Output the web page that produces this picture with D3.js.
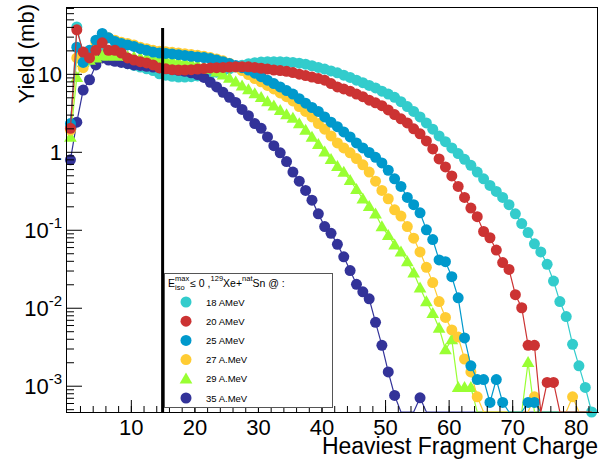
<!DOCTYPE html>
<html>
<head>
<meta charset="utf-8">
<script src="https://cdn.jsdelivr.net/npm/d3@7"></script>
<style>
  body { margin: 0; background: #fff; }
  svg { display: block; font-family: "Liberation Sans", Arial, sans-serif; }
</style>
</head>
<body>
<svg width="608" height="460"></svg>
<script>
// heaviest fragment charge, one bin per Z (drawn at the bin centre)
const CHARGES = d3.range(1, 84);

const LABELS = ["18 AMeV", "20 AMeV", "25 AMeV", "27 A.MeV", "29 A.MeV", "35 A.MeV"];
const COLORS = ["#33cccc", "#cc3333", "#0099cc", "#ffcc33", "#99ff33", "#333399"];
const MARKERS = ["circle", "circle", "circle", "circle", "triangle", "circle"];
const DRAW_ORDER = [0, 5, 4, 3, 2, 1];

const yield18 = [
  2.1, 40, 18, 15, 17, 19, 17, 15.5, 14.5, 13.5,
  12.8, 12.2, 11.6, 11.0, 10.0, 9.6, 9.3, 9.1, 9.1, 9.2,
  9.4, 9.7, 10.1, 10.5, 11.0, 11.6, 12.2, 12.9, 13.5, 13.9,
  14.2, 14.3, 14.3, 14.3, 14.2, 14.0, 13.7, 13.3, 12.7, 12.1,
  11.5, 10.9, 10.3, 9.6, 9.0, 8.3, 7.7, 7.1, 6.6, 6.0,
  5.5, 5.0, 4.4, 3.8, 3.3, 2.8, 2.35, 1.95, 1.6, 1.35,
  1.12, 0.95, 0.80, 0.67, 0.55, 0.45, 0.37, 0.31, 0.26, 0.21,
  0.16, 0.12, 0.092, 0.066, 0.052, 0.036, 0.022, 0.012, 0.0077, 0.0034,
  0.0018, 0.00095, 0.00046
];
const yield20 = [
  2.0, 36.7, 19, 16, 20, 25, 20, 20, 18.5, 16,
  15, 14.3, 13.8, 13, 11.9, 11.6, 11.3, 11.2, 11.2, 11.3,
  11.5, 11.7, 11.9, 12.0, 12.1, 12.2, 12.3, 12.3, 12.3, 12.1,
  11.8, 11.5, 11.2, 11.0, 10.8, 10.4, 9.9, 9.5, 9.1, 8.7,
  8.3, 7.5, 6.8, 6.4, 6.0, 5.5, 5.1, 4.6, 4.25, 3.9,
  3.45, 3.0, 2.65, 2.35, 1.97, 1.7, 1.38, 1.09, 0.81, 0.64,
  0.49, 0.36, 0.26, 0.19, 0.147, 0.095, 0.079, 0.055, 0.038, 0.031,
  0.0147, 0.010, 0.0033, 0.0033, 0, 0.0011, 0.0011, 0, 0, 0,
  0, 0, 0
];
const yield25 = [
  2.3, 22, 14, 20, 27, 33, 29, 26, 24.5, 23.5,
  22.5, 21, 20, 19, 18.5, 18.3, 18, 17.6, 17.2, 16.8,
  16.5, 16.2, 15.7, 15, 14.3, 13.6, 12.8, 12, 11.2, 10.2,
  9.2, 8.3, 7.5, 6.8, 6.1, 5.5, 4.8, 4.2, 3.7, 3.3,
  2.8, 2.4, 2.1, 1.8, 1.55, 1.3, 1.12, 0.98, 0.85, 0.72,
  0.58, 0.45, 0.36, 0.26, 0.21, 0.165, 0.1, 0.075, 0.041, 0.039,
  0.025, 0.0134, 0.0041, 0.0018, 0.0012, 0.0012, 0.00061, 0.0012, 0.00061, 0,
  0, 0, 0.00061, 0.00061, 0, 0, 0, 0, 0, 0,
  0, 0, 0
];
const yield27 = [
  1.9, 16, 12, 17, 25, 30, 29, 27, 25.5, 24.5,
  23.5, 22, 21, 20, 19.5, 19.2, 18.9, 18.5, 18.1, 17.7,
  17.3, 16.8, 16.2, 15.5, 14.7, 13.7, 12.3, 11, 9.8, 8.7,
  7.9, 7.1, 6.4, 5.7, 5.1, 4.5, 3.8, 3.3, 2.8, 2.3,
  1.95, 1.6, 1.3, 1.12, 0.97, 0.82, 0.68, 0.55, 0.42, 0.32,
  0.25, 0.18, 0.15, 0.11, 0.078, 0.052, 0.033, 0.021, 0.012, 0.0075,
  0.0052, 0.0042, 0.0022, 0.0015, 0.00072, 0, 0, 0, 0, 0,
  0, 0, 0, 0.00072, 0, 0, 0, 0, 0, 0.00072,
  0, 0, 0
];
const yield29 = [
  1.55, 9, 14, 15, 16, 17, 17, 17, 17, 16.8,
  16.5, 16.2, 16, 15.7, 15.3, 15, 14.7, 14.3, 14, 13.6,
  13, 12.3, 11.5, 10.6, 9.7, 8.8, 7.9, 7.0, 6.3, 5.6,
  5.0, 4.4, 3.9, 3.4, 3.0, 2.7, 2.3, 1.9, 1.55, 1.25,
  1.0, 0.8, 0.65, 0.55, 0.43, 0.33, 0.25, 0.2, 0.16, 0.11,
  0.085, 0.064, 0.052, 0.039, 0.028, 0.018, 0.012, 0.0085, 0.0055, 0.0029,
  0.0039, 0.00095, 0.00095, 0.00095, 0, 0, 0, 0, 0, 0,
  0, 0, 0.002, 0, 0, 0, 0, 0, 0, 0,
  0, 0, 0
];
const yield35 = [
  0.79, 2.4, 6.2, 8.4, 13, 16, 15, 14.5, 14, 13.5,
  13, 12.8, 12.5, 12.2, 12, 11.7, 11.4, 11.1, 10.8, 10.3,
  9.8, 9.0, 7.8, 6.8, 5.8, 5.0, 4.3, 3.5, 2.9, 2.3,
  2.0, 1.55, 1.2, 0.97, 0.75, 0.55, 0.42, 0.32, 0.24, 0.16,
  0.11, 0.09, 0.065, 0.045, 0.03, 0.02, 0.016, 0.013, 0.0065, 0.0033,
  0.0015, 0.00075, 0, 0, 0, 0.0007, 0, 0, 0, 0,
  0, 0, 0, 0, 0, 0, 0, 0, 0, 0,
  0, 0, 0, 0, 0, 0, 0, 0, 0, 0,
  0, 0, 0
];
const YIELDS = [yield18, yield20, yield25, yield27, yield29, yield35];

const X_MAJOR_TICKS = [10, 20, 30, 40, 50, 60, 70, 80];
const X_MINOR_TICKS = d3.range(2, 84, 2);
const Y_TICK_VALUES = [1e-3, 1e-2, 1e-1, 1, 10];
const Y_TICK_BASE = ["10", "10", "10", "1", "10"];
const Y_TICK_EXP = ["-3", "-2", "-1", "", ""];
const Z_CUT = 15;

const main = function() {
  const svg = d3.select("svg");
  const left = 66, right = 598, top = 7, bottom = 412;

  const x = d3.scaleLinear().domain([-0.2, 83.5]).range([left, right]);
  const y = d3.scaleLog().domain([4.6e-4, 72]).range([bottom, top]);
  const xOf = z => x(z - 0.5);
  const yOf = v => (v > 0 ? y(v) : bottom);

  // series: line first, then markers
  const line = d3.line().x(d => xOf(d.z)).y(d => yOf(d.v));
  DRAW_ORDER.forEach(i => {
    const pts = CHARGES.map((z, k) => ({ z: z, v: YIELDS[i][k] }));
    const g = svg.append("g");
    g.append("path")
      .attr("d", line(pts))
      .attr("fill", "none")
      .attr("stroke", COLORS[i])
      .attr("stroke-width", 1.2);
    const shown = pts.filter(d => d.v > 0);
    if (MARKERS[i] === "triangle") {
      g.selectAll("path.m")
        .data(shown)
        .enter()
        .append("path")
        .attr("class", "m")
        .attr("d", d3.symbol(d3.symbolTriangle).size(70))
        .attr("transform", d => `translate(${xOf(d.z)},${yOf(d.v) + 1})`)
        .attr("fill", COLORS[i]);
    } else {
      g.selectAll("circle")
        .data(shown)
        .enter()
        .append("circle")
        .attr("cx", d => xOf(d.z))
        .attr("cy", d => yOf(d.v))
        .attr("r", 5.5)
        .attr("fill", COLORS[i]);
    }
  });

  // cut line
  svg.append("line")
    .attr("x1", x(Z_CUT)).attr("x2", x(Z_CUT))
    .attr("y1", 28).attr("y2", bottom)
    .attr("stroke", "#000").attr("stroke-width", 3);

  // frame
  svg.append("rect")
    .attr("x", left + 0.5).attr("y", top + 0.5)
    .attr("width", right - left - 1).attr("height", bottom - top)
    .attr("fill", "none").attr("stroke", "#000").attr("stroke-width", 1);

  // x axis
  svg.append("g")
    .attr("transform", `translate(0,${bottom})`)
    .call(d3.axisBottom(x).tickValues(X_MINOR_TICKS).tickSize(-6).tickSizeOuter(0).tickFormat(""));
  const gx = svg.append("g")
    .attr("transform", `translate(0,${bottom})`)
    .call(d3.axisBottom(x).tickValues(X_MAJOR_TICKS).tickSize(-12).tickSizeOuter(0).tickPadding(7).tickFormat(d3.format("d")));
  gx.attr("font-size", 22).attr("font-family", null);
  gx.selectAll("text").attr("fill", "#000");

  // y axis
  const minorY = [];
  for (let e = -4; e <= 1; e++) {
    for (let m = 2; m <= 9; m++) {
      const v = m * Math.pow(10, e);
      if (v >= y.domain()[0] && v <= y.domain()[1]) minorY.push(v);
    }
  }
  svg.append("g")
    .attr("transform", `translate(${left},0)`)
    .call(d3.axisLeft(y).tickValues(minorY).tickSize(-8).tickSizeOuter(0).tickFormat(""));
  const gy = svg.append("g")
    .attr("transform", `translate(${left},0)`)
    .call(d3.axisLeft(y).tickValues(Y_TICK_VALUES).tickSize(-16).tickSizeOuter(0).tickFormat(""));
  gy.selectAll(".tick").each(function(d, k) {
    const t = d3.select(this).append("text")
      .attr("x", -4)
      .attr("y", 8)
      .attr("fill", "#000")
      .attr("text-anchor", "end")
      .attr("font-size", 22)
      .attr("font-family", "Liberation Sans, Arial, sans-serif");
    t.append("tspan").text(Y_TICK_BASE[k]);
    if (Y_TICK_EXP[k]) {
      t.append("tspan").attr("dy", -10).attr("font-size", 15).text(Y_TICK_EXP[k]);
    }
  });
  svg.selectAll(".domain").attr("stroke", "#000");
  svg.selectAll(".tick line").attr("stroke", "#000");

  // titles
  svg.append("text")
    .attr("transform", "translate(34,4) rotate(-90)")
    .attr("text-anchor", "end")
    .attr("font-size", 22)
    .text("Yield (mb)");
  svg.append("text")
    .attr("x", 598)
    .attr("y", 454)
    .attr("text-anchor", "end")
    .attr("font-size", 23)
    .text("Heaviest Fragment Charge");

  // legend
  const lg = svg.append("g");
  lg.append("rect")
    .attr("x", 164.5).attr("y", 273.5)
    .attr("width", 168).attr("height", 134)
    .attr("fill", "#fff").attr("stroke", "#555").attr("stroke-width", 1);

  const head = [
    { t: "E", size: 10.5 },
    { stack: ["max", "iso"] },
    { t: " \u2264 0 , ", size: 10.5 },
    { t: "129", size: 7.5, shift: -6 },
    { t: "Xe+", size: 10.5 },
    { t: "nat", size: 7.5, shift: -6 },
    { t: "Sn @ :", size: 10.5 }
  ];
  let cx = 168;
  const hy = 287;
  head.forEach(p => {
    if (p.stack) {
      const a = lg.append("text").attr("x", cx).attr("y", hy - 6).attr("font-size", 7.5).text(p.stack[0]);
      const b = lg.append("text").attr("x", cx).attr("y", hy + 3).attr("font-size", 7.5).text(p.stack[1]);
      cx += Math.max(a.node().getComputedTextLength(), b.node().getComputedTextLength()) + 1;
    } else {
      const t = lg.append("text").attr("x", cx).attr("y", hy + (p.shift || 0)).attr("font-size", p.size).text(p.t);
      cx += t.node().getComputedTextLength();
    }
  });

  const rowY = d3.scaleLinear().domain([0, 5]).range([302, 398]);
  LABELS.forEach((label, i) => {
    const cy = rowY(i);
    if (MARKERS[i] === "triangle") {
      lg.append("path")
        .attr("d", d3.symbol(d3.symbolTriangle).size(70))
        .attr("transform", `translate(186,${cy + 1})`)
        .attr("fill", COLORS[i]);
    } else {
      lg.append("circle").attr("cx", 186).attr("cy", cy).attr("r", 5.5).attr("fill", COLORS[i]);
    }
    lg.append("text")
      .attr("x", 206)
      .attr("y", cy + 3.5)
      .attr("font-size", 9.5)
      .text(label);
  });
};

window.onload = main;
</script>
</body>
</html>
